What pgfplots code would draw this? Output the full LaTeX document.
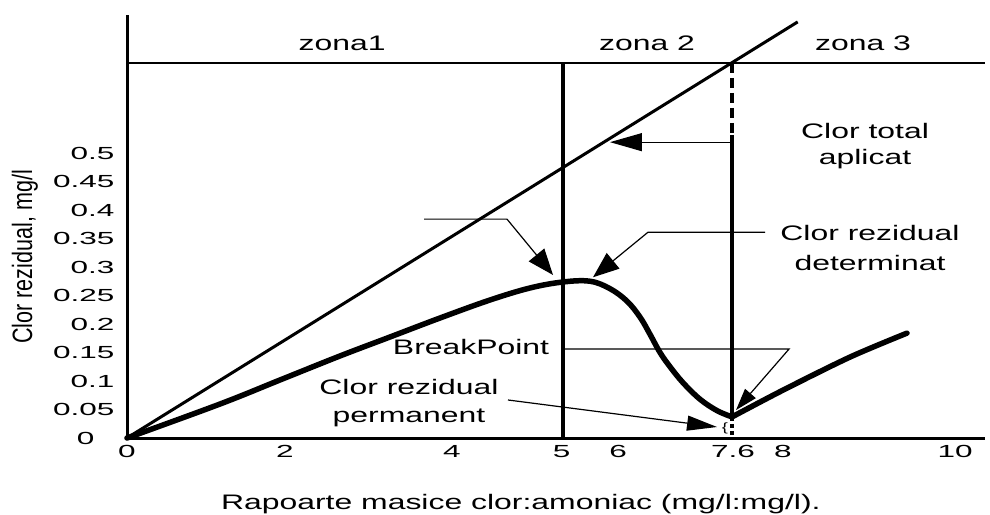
\documentclass[border=0pt]{standalone}
\usepackage{fontspec}
\setmainfont{Liberation Sans}[FakeStretch=1.52]
\newfontfamily\ylabfont{Liberation Sans}[FakeStretch=0.77]
\newfontfamily\tickfont{Liberation Sans}[FakeStretch=1.8]
\newcommand{\tl}[1]{\mbox{\tickfont\fontsize{17.5}{20}\selectfont #1}}
\usepackage{pgfplots}
\pgfplotsset{compat=1.18}
\usetikzlibrary{arrows.meta}
\tikzset{txt/.style={font=\fontsize{21}{28}\selectfont, align=center, inner sep=0pt}}
\begin{document}
\begin{tikzpicture}
\useasboundingbox (0,0) rectangle (990pt,514pt);
\begin{axis}[
  at={(127pt,76pt)}, anchor=south west,
  scale only axis, width=858pt, height=423pt,
  xmin=0, xmax=10.362, ymin=0, ymax=0.7421,
  axis lines*=left,
  axis line style={line width=3pt},
  major tick length=0pt,
  xtick={0,1.908,3.925,5.25,5.93,7.32,7.92,10},
  xticklabels={\tl{0},\tl{2},\tl{4},\tl{5},\tl{6},\tl{7.6},\tl{8},\tl{10}},
  ytick={0,0.05,0.1,0.15,0.2,0.25,0.3,0.35,0.4,0.45,0.5},
  yticklabels={\tl{0\hspace{20pt}},\tl{0.05},\tl{0.1},\tl{0.15},\tl{0.2},\tl{0.25},\tl{0.3},\tl{0.35},\tl{0.4},\tl{0.45},\tl{0.5}},
  tick label style={font=\fontsize{17.5}{20}\selectfont},
  xticklabel style={yshift=-4pt},
  yticklabel style={xshift=-9pt},
  clip=false,
]
% total chlorine applied
\addplot[line width=3pt] coordinates {(0,0) (8.10,0.730)};
% zone boundary lines
\addplot[line width=2.5pt] coordinates {(0,0.658) (10.362,0.658)};
\addplot[line width=3.5pt] coordinates {(5.266,0) (5.266,0.658)};
\addplot[line width=3.5pt, dash pattern=on 10pt off 5pt] coordinates {(7.307,0.658) (7.307,0.532)};
\addplot[line width=3.5pt] coordinates {(7.307,0.532) (7.307,0.037)};
\addplot[line width=3.5pt, dash pattern=on 4pt off 3pt] coordinates {(7.307,0.037) (7.307,0)};
% residual chlorine curve
\addplot[line width=5.5pt, smooth, tension=0.6, line cap=round] coordinates {
 (0,0) (1.123,0.0596) (1.848,0.1018) (2.572,0.1439) (3.176,0.1772) (3.780,0.2105)
 (4.384,0.2421) (4.867,0.2632) (5.266,0.2737) (5.592,0.2750) (5.833,0.2620)
 (6.039,0.2400) (6.196,0.2120) (6.316,0.1820) (6.437,0.1500) (6.558,0.1250)
 (6.715,0.0970) (6.920,0.0680) (7.126,0.0480) (7.307,0.0370)};
\addplot[line width=5.5pt, smooth, line cap=round] coordinates {
 (7.307,0.037) (7.923,0.084) (8.732,0.142) (9.420,0.184)};
% axis labels
\node[anchor=base, font=\fontsize{21}{24}\selectfont] at (axis description cs:0.459,-0.1702) {Rapoarte masice clor:amoniac (mg/l:mg/l).};
\node[rotate=90, anchor=base, font=\ylabfont\fontsize{28}{30}\selectfont] at (axis description cs:-0.1107,0.428) {Clor rezidual, mg/l};
% zone labels
\node[txt] at (axis cs:2.597,0.693) {zona1};
\node[txt] at (axis cs:6.280,0.693) {zona 2};
\node[txt] at (axis cs:8.889,0.693) {zona 3};
% annotations
\node[txt, font=\fontsize{21}{26}\selectfont] at (axis cs:8.913,0.513) {Clor total\\aplicat};
\node[txt, font=\fontsize{21}{30}\selectfont] at (axis cs:8.973,0.333) {Clor rezidual\\determinat};
\node[txt] at (axis cs:4.155,0.160) {BreakPoint};
\node[txt] at (axis cs:3.406,0.061) {Clor rezidual\\permanent};
\node[font=\fontsize{12}{12}\selectfont, inner sep=0pt] at (axis cs:7.222,0.0175) {\{};
\draw[line width=1.2pt, -{Triangle[length=26pt,width=20pt]}] (axis cs:3.587,0.384) -- (axis cs:4.589,0.384) -- (axis cs:5.145,0.286);
\draw[line width=1.2pt, -{Triangle[length=26pt,width=20pt]}] (axis cs:7.705,0.361) -- (axis cs:6.292,0.361) -- (axis cs:5.628,0.282);
\draw[line width=1.2pt, -{Triangle[length=32pt,width=18pt]}] (axis cs:7.307,0.519) -- (axis cs:5.833,0.519);
\draw[line width=1.2pt, -{Triangle[length=22pt,width=14pt]}] (axis cs:5.290,0.156) -- (axis cs:7.995,0.156) -- (axis cs:7.355,0.049);
\draw[line width=1.2pt, -{Triangle[length=30pt,width=15pt]}] (axis cs:4.601,0.0667) -- (axis cs:7.126,0.0193);
\end{axis}
\end{tikzpicture}
\end{document}
